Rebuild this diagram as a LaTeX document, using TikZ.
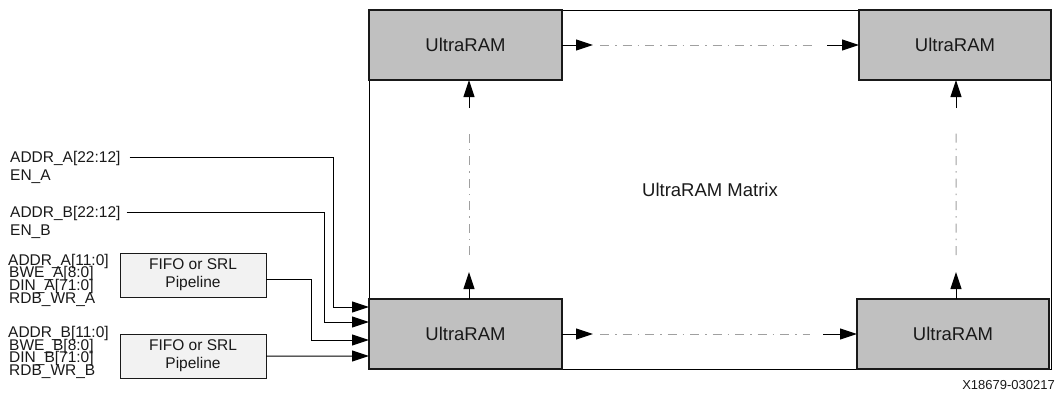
\documentclass[tikz,border=0pt]{standalone}
\usepackage{fontspec}
\setmainfont{Liberation Sans}
\usetikzlibrary{arrows.meta,calc}
\definecolor{ink}{RGB}{25,25,25}
\definecolor{ramfill}{RGB}{192,192,192}
\definecolor{fifofill}{RGB}{242,242,242}
\definecolor{ddgray}{RGB}{160,160,160}
\begin{document}
\begin{tikzpicture}[x=1bp,y=-1bp,
  ram/.style={draw=ink, line width=1.2bp, fill=ramfill, minimum width=193bp, minimum height=70bp,
    inner sep=0, outer sep=0, font=\fontsize{18.5bp}{22bp}\selectfont, text=ink},
  fifo/.style={draw=ink, line width=1bp, fill=fifofill, minimum width=146bp, minimum height=44bp,
    inner sep=0, outer sep=0, align=center, font=\fontsize{15.5bp}{18bp}\selectfont, text=ink},
  sig/.style={anchor=base west, inner sep=0, text height=10bp, text depth=2bp,
    font=\fontsize{15.5bp}{18bp}\selectfont, text=ink},
  arr/.style={draw=black, line width=1bp, -{Triangle[length=17bp,width=11bp]}},
  dd/.style={draw=ddgray, line width=1bp, dash pattern=on 9bp off 6bp on 1.5bp off 6bp}]
\useasboundingbox (0,0) rectangle (1058,394);

% matrix outline
\node[draw=black, line width=1bp, minimum width=682bp, minimum height=359bp, inner sep=0,
  font=\fontsize{18.5bp}{22bp}\selectfont, text=ink] (mat) at (710,189.5) {UltraRAM Matrix};

% UltraRAM blocks
\node[ram] (ur1) at (465.5,45) {UltraRAM};
\node[ram, minimum width=192bp] (ur2) at (955,45) {UltraRAM};
\node[ram] (ur3) at (465.5,334) {UltraRAM};
\node[ram, minimum width=192bp] (ur4) at (953,334) {UltraRAM};

% horizontal cascades
\draw[arr] (ur1.east) -- ++(31,0) coordinate (h1a);
\draw[arr] ([xshift=-32bp]ur2.west) coordinate (h1b) -- (ur2.west);
\draw[dd] ([xshift=7bp]h1a) -- ([xshift=-12bp]h1b);

\draw[arr] (ur3.east) -- ++(31,0) coordinate (h2a);
\draw[arr] ([xshift=-34bp]ur4.west) coordinate (h2b) -- (ur4.west);
\draw[dd] ([xshift=7bp]h2a) -- ([xshift=-13bp]h2b);

% vertical cascades
\draw[arr] ([xshift=3.5bp]ur3.north) -- ++(0,-27) coordinate (v1a);
\draw[arr] ([xshift=3.5bp,yshift=-28bp]ur1.south) coordinate (v1b) -- ([xshift=3.5bp]ur1.south);
\draw[dd] ([yshift=17bp]v1a) -- ([yshift=-22bp]v1b);

\draw[arr] ([xshift=3bp]ur4.north) -- ++(0,-27) coordinate (v2a);
\draw[arr] ([xshift=1bp,yshift=-28bp]ur2.south) coordinate (v2b) -- ([xshift=1bp]ur2.south);
\draw[dd] ([yshift=17bp]v2a) -- ([yshift=-22bp]v2b);

% input signals
\node[sig] (la1) at (10,162.5) {ADDR\_A[22:12]};
\node[sig] (le1) at (10,180.5) {EN\_A};
\node[sig] (la2) at (10,217.5) {ADDR\_B[22:12]};
\node[sig] (le2) at (10,235.5) {EN\_B};

\node[sig] (ga1) at (8,265) {ADDR\_A[11:0]};
\node[sig] (ga2) at (9,277.7) {BWE\_A[8:0]};
\node[sig] (ga3) at (9,290.4) {DIN\_A[71:0]};
\node[sig] (ga4) at (9,303.1) {RDB\_WR\_A};

\node[sig] (gb1) at (8,337.5) {ADDR\_B[11:0]};
\node[sig] (gb2) at (9,350.2) {BWE\_B[8:0]};
\node[sig] (gb3) at (9,362.9) {DIN\_B[71:0]};
\node[sig] (gb4) at (9,375.6) {RDB\_WR\_B};

\node[fifo] (fA) at (193,275) {FIFO or SRL\\Pipeline};
\node[fifo] (fB) at (193,356) {FIFO or SRL\\Pipeline};

% input wires
\draw[arr] ([xshift=9bp,yshift=5.5bp]la1.base east) -| ([xshift=-36bp,yshift=27bp]ur3.west) -- ([yshift=27bp]ur3.west);
\draw[arr] ([xshift=6bp,yshift=5.5bp]la2.base east) -| ([xshift=-45bp,yshift=12bp]ur3.west) -- ([yshift=12bp]ur3.west);
\draw[arr] ([yshift=-4bp]fA.east) -| ([xshift=-58bp,yshift=-6bp]ur3.west) -- ([yshift=-6bp]ur3.west);
\draw[arr] (fB.east) -- ([yshift=-22bp]ur3.west);

% figure id
\node[anchor=base east, inner sep=0, font=\fontsize{13bp}{15bp}\selectfont, text=ink] (fig) at (1055,389.5) {X18679-030217};
\end{tikzpicture}
\end{document}
